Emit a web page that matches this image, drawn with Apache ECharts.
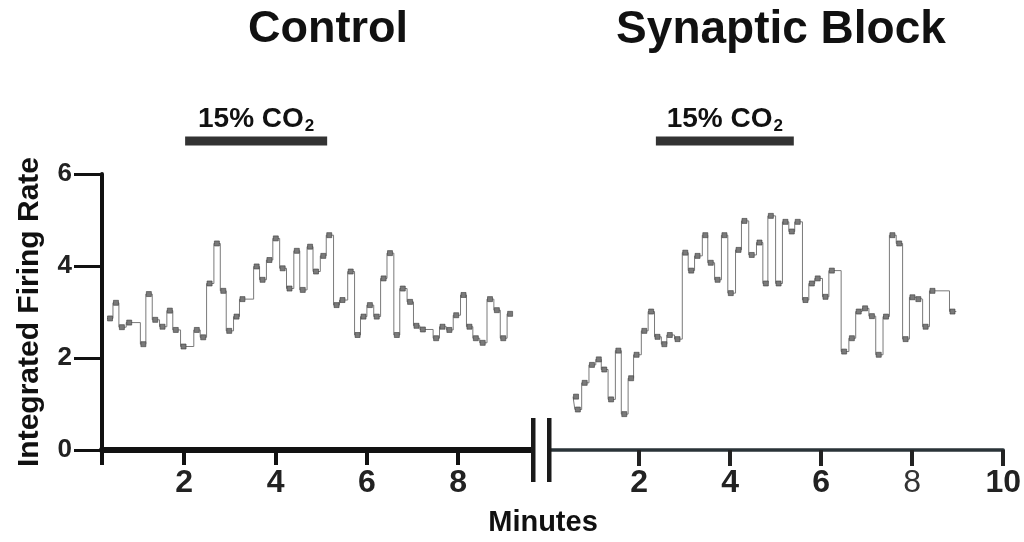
<!DOCTYPE html>
<html lang="en">
<head>
<meta charset="UTF-8">
<title>Integrated Firing Rate</title>
<style>
    html, body { margin: 0; padding: 0; background: #fff; }
    #main { width: 1024px; height: 542px; }
</style>
</head>
<body>
<div id="main"></div>
<script src="https://cdn.jsdelivr.net/npm/echarts@6/dist/echarts.min.js"></script>
<script>
    // Control: step start times (minutes) and levels
    var ctrlT = [0.31, 0.44, 0.57, 0.73, 1.04, 1.16, 1.30, 1.46, 1.62, 1.75, 1.92, 2.21, 2.35, 2.49, 2.65, 2.79, 2.92, 3.08, 3.21, 3.52,
        3.65, 3.80, 3.94, 4.09, 4.24, 4.40, 4.53, 4.69, 4.82, 4.98, 5.11, 5.27, 5.40, 5.58, 5.73, 5.86, 6.00, 6.15, 6.30, 6.44,
        6.59, 6.72, 6.88, 7.02, 7.16, 7.45, 7.59, 7.74, 7.89, 8.05, 8.18, 8.32, 8.47, 8.63, 8.78, 8.92, 9.07, 9.13];
    var ctrlV = [2.86, 3.20, 2.67, 2.77, 2.30, 3.39, 2.83, 2.68, 3.03, 2.61, 2.25, 2.61, 2.45, 3.62, 4.49, 3.46, 2.59, 2.90, 3.28, 3.99,
        3.70, 4.13, 4.60, 3.95, 3.51, 4.33, 3.48, 4.42, 3.88, 4.22, 4.67, 3.15, 3.26, 3.88, 2.50, 2.90, 3.15, 2.90, 3.73, 4.28,
        2.50, 3.51, 3.22, 2.70, 2.62, 2.43, 2.68, 2.61, 2.93, 3.37, 2.68, 2.43, 2.33, 3.28, 3.04, 2.43, 2.96, 2.96];

    // Synaptic block
    var blockT = [0.55, 0.59, 0.74, 0.90, 1.05, 1.17, 1.32, 1.48, 1.61, 1.76, 1.88, 2.05, 2.20, 2.34, 2.49, 2.61, 2.78, 2.95, 3.08, 3.22,
        3.39, 3.51, 3.66, 3.81, 3.95, 4.12, 4.25, 4.41, 4.58, 4.72, 4.83, 5.00, 5.15, 5.29, 5.42, 5.59, 5.73, 5.86, 6.03, 6.17,
        6.44, 6.61, 6.76, 6.90, 7.05, 7.20, 7.36, 7.50, 7.65, 7.79, 7.94, 8.07, 8.23, 8.38, 8.82, 8.97];
    var blockV = [1.16, 0.88, 1.46, 1.85, 1.97, 1.75, 1.10, 2.16, 0.78, 1.56, 2.07, 2.59, 3.01, 2.46, 2.30, 2.50, 2.41, 4.29, 3.90, 4.22,
        4.67, 4.07, 3.70, 4.67, 3.41, 4.35, 4.98, 4.24, 4.51, 3.62, 5.09, 3.62, 4.96, 4.75, 4.96, 3.26, 3.62, 3.73, 3.33, 3.90,
        2.14, 2.43, 3.01, 3.08, 2.91, 2.07, 2.90, 4.67, 4.49, 2.41, 3.32, 3.28, 2.68, 3.46, 3.01, 3.01];

    // 15% CO2 periods (minutes) and the level the bar is drawn at
    var co2Ctrl = [2.02, 5.13];
    var co2Block = [2.37, 5.40];
    var co2Level = 6.72;

    var ctrlTicks = [0.2, 2, 4, 6, 8];
    var ctrlLabels = [2, 4, 6, 8];
    var blockTicks = [2, 4, 6, 8, 10];

    var NARROW = '"Liberation Sans Narrow", "Arial Narrow", "Liberation Sans", Arial, sans-serif';
    var SANS = '"Liberation Sans", Arial, sans-serif';

    function toPairs(t, v) {
        var out = [];
        for (var i = 0; i < t.length; i++) {
            var item = { value: [t[i], v[i]] };
            if (i === t.length - 1) item.symbol = 'none';
            out.push(item);
        }
        return out;
    }

    function trace(idx, t, v) {
        return {
            type: 'line',
            xAxisIndex: idx,
            yAxisIndex: idx,
            step: 'end',
            data: toPairs(t, v),
            symbol: 'rect',
            symbolSize: [5, 5],
            symbolOffset: [3, 0],
            showAllSymbol: true,
            itemStyle: { color: '#7a7a7a', borderColor: '#3a3a3a', borderWidth: 0.6 },
            lineStyle: { color: '#7a7a7a', width: 1 },
            silent: true,
            animation: false,
            z: 3
        };
    }

    function co2Bar(idx, span) {
        return {
            type: 'line',
            xAxisIndex: idx,
            yAxisIndex: idx,
            data: [[span[0], co2Level], [span[1], co2Level]],
            symbol: 'none',
            clip: false,
            lineStyle: { color: '#333', width: 9, cap: 'butt' },
            silent: true,
            animation: false
        };
    }

    var myChart = echarts.init(document.getElementById('main'));

    var option = {
        backgroundColor: '#fff',
        animation: false,
        grid: [
            { left: 102, top: 174, width: 430, height: 276 },
            { left: 548, top: 174, width: 456, height: 276 }
        ],
        xAxis: [{
            gridIndex: 0, type: 'value', min: 0.2, max: 9.615,
            splitLine: { show: false },
            axisLine: { lineStyle: { color: '#111', width: 6 } },
            axisTick: { customValues: ctrlTicks, length: 15, lineStyle: { color: '#111', width: 4 } },
            axisLabel: { customValues: ctrlLabels, margin: 17, color: '#222', fontSize: 32, fontWeight: 'bold', fontFamily: NARROW }
        }, {
            gridIndex: 1, type: 'value', min: 0, max: 10,
            splitLine: { show: false },
            axisLine: { lineStyle: { color: '#2a3338', width: 3.5 } },
            axisTick: { customValues: blockTicks, length: 16, lineStyle: { color: '#222', width: 4 } },
            axisLabel: {
                customValues: blockTicks, margin: 17, color: '#222', fontSize: 32, fontWeight: 'bold', fontFamily: NARROW,
                formatter: function (v) { return v === 8 ? '{thin|8}' : String(v); },
                rich: { thin: { fontWeight: 'normal', fontSize: 32, fontFamily: NARROW, color: '#333' } }
            }
        }],
        yAxis: [{
            gridIndex: 0, type: 'value', min: 0, max: 6, interval: 2,
            splitLine: { show: false },
            axisLine: { show: true, lineStyle: { color: '#111', width: 4 } },
            axisTick: { show: true, length: 28, lineStyle: { color: '#111', width: 3 } },
            axisLabel: { margin: 30, color: '#222', fontSize: 26, fontWeight: 'bold', fontFamily: NARROW },
            name: 'Integrated Firing Rate',
            nameLocation: 'middle',
            nameRotate: 90,
            nameGap: 57,
            nameTextStyle: { color: '#111', fontSize: 30, fontWeight: 'bold', fontFamily: SANS }
        }, {
            gridIndex: 1, type: 'value', min: 0, max: 6, interval: 2, show: false
        }],
        series: [
            trace(0, ctrlT, ctrlV),
            trace(1, blockT, blockV),
            co2Bar(0, co2Ctrl),
            co2Bar(1, co2Block)
        ]
    };
    myChart.setOption(option);

    // texts placed from data positions
    function co2Text(idx, span) {
        var p = myChart.convertToPixel({ gridIndex: idx }, [(span[0] + span[1]) / 2, co2Level]);
        return {
            type: 'text', x: p[0], y: p[1] - 22,
            style: {
                text: '{a|15% CO}{b|2}',
                textAlign: 'center', textVerticalAlign: 'middle',
                fill: '#111',
                rich: {
                    a: { fontSize: 28, fontWeight: 'bold', fontFamily: SANS, fill: '#111' },
                    b: { fontSize: 17, fontWeight: 'bold', fontFamily: SANS, fill: '#111', padding: [14, 0, 0, 1] }
                }
            }
        };
    }

    var p1 = myChart.convertToPixel({ gridIndex: 1 }, [0, 0]);

    myChart.setOption({
        graphic: [
            { type: 'text', x: 328, y: 30, style: { text: 'Control', textAlign: 'center', textVerticalAlign: 'middle', fill: '#111', fontSize: 45, fontWeight: 'bold', fontFamily: SANS } },
            { type: 'text', x: 781, y: 30, style: { text: 'Synaptic Block', textAlign: 'center', textVerticalAlign: 'middle', fill: '#111', fontSize: 46, fontWeight: 'bold', fontFamily: SANS } },
            co2Text(0, co2Ctrl),
            co2Text(1, co2Block),
            // axis break marks
            { type: 'rect', shape: { x: p1[0] - 17, y: p1[1] - 32, width: 4.5, height: 64 }, style: { fill: '#1a1a1a' }, z: 10 },
            { type: 'rect', shape: { x: p1[0] - 1, y: p1[1] - 32, width: 4.5, height: 64 }, style: { fill: '#1a1a1a' }, z: 10 },
            { type: 'rect', shape: { x: p1[0] - 12.5, y: p1[1] - 34, width: 11.5, height: 68 }, style: { fill: '#fff' }, z: 9 },
            { type: 'text', x: 543, y: 523, style: { text: 'Minutes', textAlign: 'center', textVerticalAlign: 'middle', fill: '#111', fontSize: 29, fontWeight: 'bold', fontFamily: NARROW } }
        ]
    });
</script>
</body>
</html>
